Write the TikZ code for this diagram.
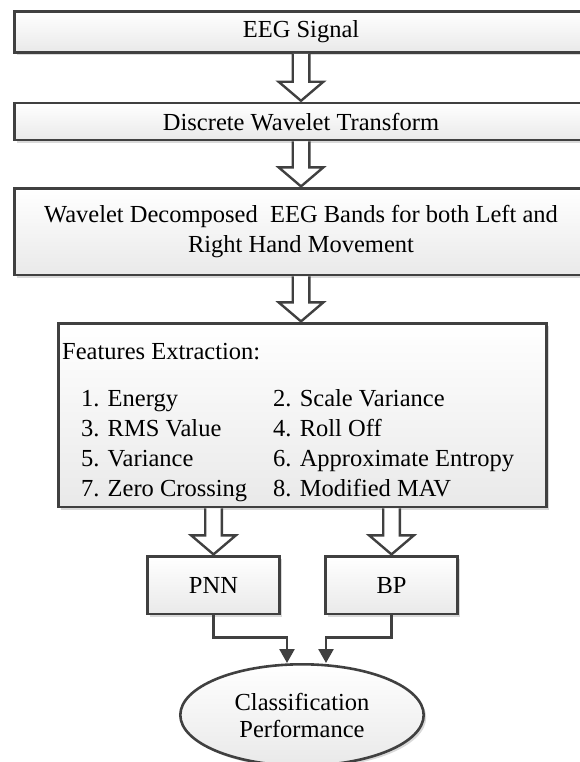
\documentclass[tikz,border=0pt]{standalone}
\usepackage{fontspec}
\setmainfont{Liberation Serif}
\usepackage{tikz}
\usetikzlibrary{matrix, positioning}
\usetikzlibrary{shapes.geometric}
\usetikzlibrary{shadows}
\usetikzlibrary{calc}
\usetikzlibrary{arrows.meta}
\definecolor{edgegray}{RGB}{64,64,64}
\definecolor{shadegray}{RGB}{233,233,233}
\tikzset{
	stepbox/.style={draw=edgegray, line width=2.6pt, rectangle, inner sep=0pt, top color=white, bottom color=shadegray, drop shadow={shadow xshift=2.5pt, shadow yshift=-2.5pt, fill=black!25, opacity=0.6}, font=\fontsize{24.5}{30}\selectfont, align=center},
	resultbox/.style={stepbox, ellipse, font=\fontsize{24.5}{27}\selectfont},
	featitem/.style={anchor=base west, inner sep=0pt, text height=21pt, text depth=9pt, font=\fontsize{24.5}{30}\selectfont},
	% hollow block arrow from one box down to the next
	hollow/.style={draw=edgegray, line width=2.4pt, fill=white, line join=miter, to path={let \p1=(\tikztostart), \p2=(\tikztotarget) in (\x1-8.3pt,\y1) -- (\x1-8.3pt,\y2+20pt) -- (\x1-22.3pt,\y2+20pt) -- (\x1,\y2+1pt) -- (\x1+22.3pt,\y2+20pt) -- (\x1+8.3pt,\y2+20pt) -- (\x1+8.3pt,\y1)}},
	link/.style={draw=edgegray, line width=2.6pt, -{Triangle[length=14pt,width=15pt]}},
}
\begin{document}
\begin{tikzpicture}[x=1pt, y=-1pt, node distance=46pt]
		\path[use as bounding box, clip] (0,0) rectangle (580,762);
		
		\node (sig) [stepbox, minimum width=573pt, minimum height=41pt] at (301,32) {EEG Signal};
		\node (dwt) [stepbox, below=48pt of sig, minimum width=573pt, minimum height=37pt] {Discrete Wavelet Transform};
		\node (bands) [stepbox, below=of dwt, minimum width=573pt, minimum height=86.4pt] {Wavelet Decomposed\ \ EEG Bands for both Left and\\Right Hand Movement};
		\node (feat) [stepbox, below=of bands, xshift=1.5pt, minimum width=488.4pt, minimum height=183.4pt] {};
		
		\node (feattitle) [anchor=base west, inner sep=0pt, font=\fontsize{24.5}{30}\selectfont] at (62,359) {Features Extraction:};
		\matrix (featlist) [matrix of nodes, nodes={featitem}, column sep=26pt, inner sep=0pt, anchor=north west] at (81,385) {
			1. Energy & 2. Scale Variance \\
			3. RMS Value & 4. Roll Off \\
			5. Variance & 6. Approximate Entropy \\
			7. Zero Crossing & 8. Modified MAV \\
		};
		
		\node (pnn) [stepbox, below=47pt of feat.south, xshift=-89pt, minimum width=132.4pt, minimum height=57.4pt] {PNN};
		\node (bp) [stepbox, right=43pt of pnn, minimum width=132.4pt, minimum height=57.4pt] {BP};
		\node (perf) [resultbox, minimum width=243.4pt, minimum height=101.4pt] at (302,715) {Classification\\Performance};
		
		\begin{scope}
			\draw[hollow] (sig.south) to (dwt.north);
			\draw[hollow] (dwt.south) to (bands.north);
			\draw[hollow] (bands.south) to (feat.north);
			\draw[hollow] (pnn.north |- feat.south) to (pnn.north);
			\draw[hollow] (bp.north |- feat.south) to (bp.north);
		\end{scope}
		
		\draw[link] (pnn.south) -- ++(0,22) -| ([xshift=-15pt]perf.north);
		\draw[link] (bp.south) -- ++(0,22) -| ([xshift=24pt]perf.north);
	\end{tikzpicture}
\end{document}
